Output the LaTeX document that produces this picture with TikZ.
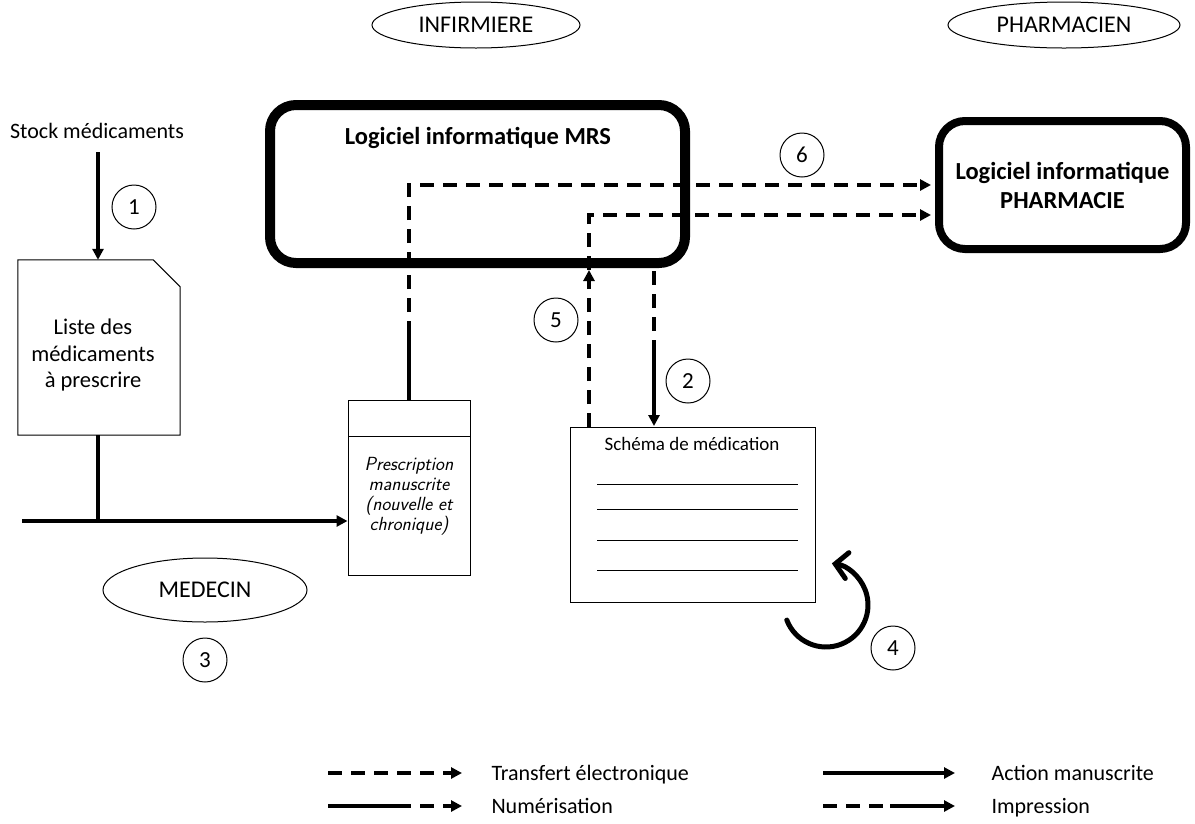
\documentclass[tikz,border=0pt]{standalone}
\usepackage{fontspec}
\setmainfont{Carlito}
\usetikzlibrary{arrows.meta,shapes.geometric}
\begin{document}
\begin{tikzpicture}[x=1pt,y=-1pt,
  every node/.style={font=\fontsize{22}{26}\selectfont},
  tip/.style={-{Triangle[length=11pt,width=11pt]}},
  conn/.style={line width=3.6pt},
  dsh/.style={conn,dash pattern=on 14pt off 9pt},
  actor/.style={draw,line width=1pt,ellipse,inner sep=0pt,font=\fontsize{24}{28}\selectfont},
  num/.style={draw,line width=1pt,circle,minimum size=44pt,inner sep=0pt,font=\fontsize{23}{26}\selectfont},
  soft/.style={draw,rounded corners=26pt},
  sline/.style={line width=1pt}
]
\useasboundingbox (0,0) rectangle (1195,823);

% actors
\node[actor,minimum width=208pt,minimum height=46pt] (inf) at (476,25) {INFIRMIERE};
\node[actor,minimum width=232pt,minimum height=46pt] (pha) at (1064,25) {PHARMACIEN};
\node[actor,minimum width=204pt,minimum height=64pt] (med) at (205,590) {MEDECIN};

% software boxes
\node[soft,line width=10pt,minimum width=415pt,minimum height=158pt] (mrs) at (477.5,184) {};
\node[font=\fontsize{24.5}{28}\selectfont\bfseries] (mrst) at (478,138) {Logiciel informatique MRS};
\node[soft,line width=8pt,minimum width=247pt,minimum height=128pt,align=center,
      font=\fontsize{24.5}{29}\selectfont\bfseries] (phs) at (1062.5,185) {Logiciel informatique\\PHARMACIE};

% stock and list
\node (stock) at (97,131) {Stock médicaments};
\node[minimum width=162pt,minimum height=175pt,inner sep=0pt] (liste) at (99,347.5) {};
\node[align=center,font=\fontsize{22.5}{26.5}\selectfont] (listet) at (93,355)
  {Liste des\\médicaments\\à prescrire};
\draw[sline] (liste.north west) -- ([xshift=-27pt]liste.north east) -- ([yshift=-27pt]liste.north east)
  -- (liste.south east) -- (liste.south west) -- cycle;

% prescription
\node[draw,sline,minimum width=122pt,minimum height=175pt,inner sep=0pt] (presc) at (409,487.5) {};
\draw[sline] (348,436) -- (470,436);
\node[align=center,font=\fontsize{19}{20}\selectfont\sffamily\itshape] (presct) at (409,496)
  {Prescription\\manuscrite\\(nouvelle et\\chronique)};

% schema
\node[draw,sline,minimum width=245pt,minimum height=175pt,inner sep=0pt] (sch) at (692.5,514.5) {};
\node[font=\fontsize{19}{22}\selectfont] (scht) at (692,444) {Schéma de médication};
\foreach \yy in {484,509,540,570} \draw[sline] (597,\yy) -- (798,\yy);

% coordinates
\coordinate (c1) at (98,152);
\coordinate (j) at (98,521);
\coordinate (h0) at (22,521);
\coordinate (n1) at (409,335);
\coordinate (n2) at (409,185);
\coordinate (n3) at (931,185);
\coordinate (f0) at (589,427);
\coordinate (f1) at (589,270);
\coordinate (f2) at (589,215);
\coordinate (f3) at (931,215);
\coordinate (p0) at (654,271);
\coordinate (p1) at (654,342);
\coordinate (p2) at (654,426);

% connectors
\draw[conn,tip] (c1) -- (liste.north -| c1);
\draw[conn] (liste.south -| j) -- (j);
\draw[conn,tip] (h0) -- (h0 -| presc.west);
\draw[conn] (presc.north) -- (n1);
\draw[dsh,tip] (n1) -- (n2) -- (n3);
\draw[dsh,tip] (f0) -- (f1);
\draw[dsh,tip] (f1) -- (f2) -- (f3);
\draw[dsh] (p0) -- (p1);
\draw[conn,tip] (p1) -- (p2);

% circular arrow 4
\coordinate (rc) at (826,605);
\draw[line width=5pt,line cap=round,-{Straight Barb[length=12pt,width=26pt,line cap=round]}]
  ([shift={(159:42)}]rc) arc[start angle=159,end angle=-82,radius=42];

% numbers
\node[num] (k1) at (134,207) {1};
\node[num] (k2) at (688,381) {2};
\node[num] (k3) at (205,660) {3};
\node[num] (k4) at (893,648) {4};
\node[num] (k5) at (556,320) {5};
\node[num] (k6) at (802,155) {6};

% legend
\coordinate (l1a) at (328,773); \coordinate (l1b) at (462,773);
\coordinate (l2a) at (328,806); \coordinate (l2m) at (397,806); \coordinate (l2b) at (462,806);
\coordinate (l3a) at (823,773); \coordinate (l3b) at (955,773);
\coordinate (l4a) at (823,806); \coordinate (l4m) at (890,806); \coordinate (l4b) at (955,806);
\draw[dsh,tip] (l1a) -- (l1b);
\draw[conn] (l2a) -- (l2m); \draw[dsh,tip] (l2m) -- (l2b);
\draw[conn,tip] (l3a) -- (l3b);
\draw[dsh] (l4a) -- (l4m); \draw[conn,tip] (l4m) -- (l4b);
\node[anchor=base west] (t1) at (488,780) {Transfert électronique};
\node[anchor=base west] (t2) at (488,813) {Numérisation};
\node[anchor=base west] (t3) at (988,780) {Action manuscrite};
\node[anchor=base west] (t4) at (988,813) {Impression};
\end{tikzpicture}
\end{document}
